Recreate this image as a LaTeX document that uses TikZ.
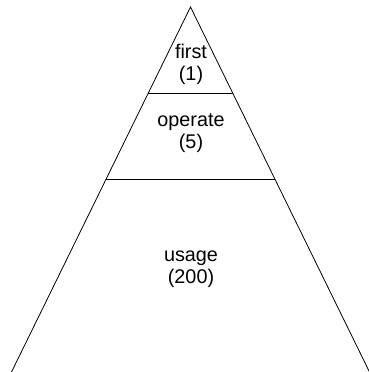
\documentclass[tikz,border=0pt]{standalone}
\usepackage{fontspec}
\setmainfont{Liberation Sans}
\usetikzlibrary{calc}

\tikzset{
  couche/.style={align=center,inner sep=0pt,font=\fontsize{19.8}{22}\selectfont},
  trait/.style={line width=0.8pt,black}
}

\begin{document}
\begin{tikzpicture}[x=1pt,y=-1pt]

\useasboundingbox (0,0) rectangle (369,372) ;

% sommet et base

\coordinate (sommet) at (190.5,7) ;
\coordinate (bas_g) at (11.5,372) ;
\coordinate (bas_d) at (369.5,372) ;

% cotes du triangle

\draw[trait] (bas_g) -- (sommet) -- (bas_d) ;

% traits de separation

\coordinate (sep1_g) at ($(sommet)!0.2356!(bas_g)$) ;
\coordinate (sep1_d) at ($(sommet)!0.2356!(bas_d)$) ;
\coordinate (sep2_g) at ($(sommet)!0.4712!(bas_g)$) ;
\coordinate (sep2_d) at ($(sommet)!0.4712!(bas_d)$) ;

\draw[trait] (sep1_g) -- (sep1_d) ;
\draw[trait] (sep2_g) -- (sep2_d) ;

% etiquettes

\node[couche] (first) at (191,64) {first\\(1)} ;
\node[couche] (operate) at (191,133) {operate\\(5)} ;
\node[couche] (usage) at (191,269) {usage\\(200)} ;

\end{tikzpicture}
\end{document}
